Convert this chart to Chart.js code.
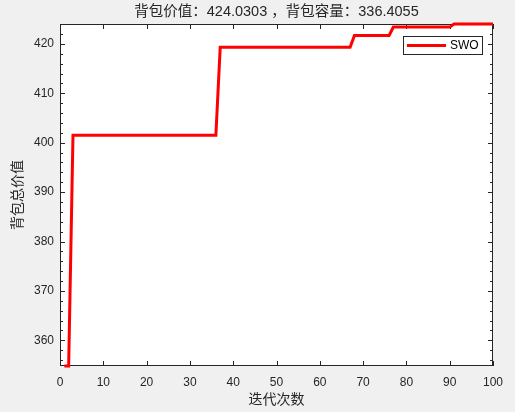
<!DOCTYPE html>
<html>
<head>
<meta charset="utf-8">
<script src="https://cdn.jsdelivr.net/npm/chart.js@4"></script>
<style>
  html, body { margin: 0; padding: 0; background: #f0f0f0; }
  canvas { display: block; }
</style>
</head>
<body>
<canvas id="swo" width="515" height="412"></canvas>
<script>
// breakpoints of the best-value curve (iteration, value)
const iterations = [1, 2, 3, 36, 37, 67, 68, 76, 77, 90, 91, 100];
const values = [354.8, 354.8, 401.5, 401.5, 419.3, 419.3, 421.7, 421.7, 423.4, 423.4, 424.03, 424.03];
const xTicks = [0, 10, 20, 30, 40, 50, 60, 70, 80, 90, 100];
const yTicks = [360, 370, 380, 390, 400, 410, 420];
const yMinorTicks = [356, 358, 362, 364, 366, 368, 372, 374, 376, 378, 382, 384, 386, 388,
  392, 394, 396, 398, 402, 404, 406, 408, 412, 414, 416, 418, 422];

const titleText = '背包价值：424.0303 ，背包容量：336.4055';
const seriesName = 'SWO';
const axisColor = '#262626';
const fontFamily = '"Liberation Sans", Arial, "Noto Sans CJK SC", sans-serif';

// matlab-ish frame: grey figure, white axes, box with inward ticks, title and legend
const matlabFrame = {
  id: 'matlabFrame',
  beforeDraw(chart) {
    const ctx = chart.ctx;
    const a = chart.chartArea;
    ctx.save();
    ctx.fillStyle = '#f0f0f0';
    ctx.fillRect(0, 0, chart.width, chart.height);
    ctx.fillStyle = '#ffffff';
    ctx.fillRect(a.left, a.top, a.right - a.left, a.bottom - a.top);
    ctx.restore();
  },
  beforeDatasetsDraw(chart) {
    const ctx = chart.ctx;
    const a = chart.chartArea;
    const xs = chart.scales.x;
    const ys = chart.scales.y;
    ctx.save();
    ctx.strokeStyle = axisColor;
    ctx.lineWidth = 1;
    ctx.strokeRect(a.left + 0.5, a.top + 0.5, a.right - a.left - 1, a.bottom - a.top - 1);
    ctx.beginPath();
    xTicks.forEach(v => {
      const px = Math.round(xs.getPixelForValue(v)) + 0.5;
      ctx.moveTo(px, a.bottom); ctx.lineTo(px, a.bottom - 5);
      ctx.moveTo(px, a.top); ctx.lineTo(px, a.top + 5);
    });
    yTicks.forEach(v => {
      const py = Math.round(ys.getPixelForValue(v)) + 0.5;
      ctx.moveTo(a.left, py); ctx.lineTo(a.left + 5, py);
      ctx.moveTo(a.right, py); ctx.lineTo(a.right - 5, py);
    });
    yMinorTicks.forEach(v => {
      const py = Math.round(ys.getPixelForValue(v)) + 0.5;
      ctx.moveTo(a.left, py); ctx.lineTo(a.left + 3, py);
      ctx.moveTo(a.right, py); ctx.lineTo(a.right - 3, py);
    });
    ctx.stroke();

    ctx.fillStyle = axisColor;
    ctx.font = '14.5px ' + fontFamily;
    ctx.textAlign = 'center';
    ctx.textBaseline = 'middle';
    ctx.fillText(titleText, (a.left + a.right) / 2, 12);
    ctx.restore();
  },
  afterDatasetsDraw(chart) {
    const ctx = chart.ctx;
    const a = chart.chartArea;
    const ds = chart.data.datasets[0];
    const bx = a.right - 90, by = a.top + 12, bw = 79, bh = 18;
    ctx.save();
    ctx.fillStyle = '#ffffff';
    ctx.fillRect(bx, by, bw, bh);
    ctx.strokeStyle = '#262626';
    ctx.lineWidth = 1;
    ctx.strokeRect(bx + 0.5, by + 0.5, bw, bh);
    ctx.strokeStyle = ds.borderColor;
    ctx.lineWidth = ds.borderWidth;
    ctx.beginPath();
    ctx.moveTo(bx + 4, by + 9.5);
    ctx.lineTo(bx + 43, by + 9.5);
    ctx.stroke();
    ctx.fillStyle = '#000000';
    ctx.font = '12px ' + fontFamily;
    ctx.textAlign = 'left';
    ctx.textBaseline = 'middle';
    ctx.fillText(ds.label, bx + 47, by + 10);
    ctx.restore();
  }
};

const points = iterations.map((it, i) => ({ x: it, y: values[i] }));

new Chart(document.getElementById('swo'), {
  type: 'line',
  data: {
    datasets: [{
      label: seriesName,
      data: points,
      borderColor: '#ff0000',
      borderWidth: 3,
      pointRadius: 0,
      fill: false,
      tension: 0,
      clip: 2
    }]
  },
  options: {
    responsive: false,
    devicePixelRatio: 1,
    animation: false,
    layout: { padding: { top: 24, right: 22, left: 0, bottom: 0 } },
    plugins: {
      legend: { display: false },
      title: { display: false },
      tooltip: { enabled: false }
    },
    scales: {
      x: {
        type: 'linear',
        min: 0,
        max: 100,
        afterBuildTicks: scale => { scale.ticks = xTicks.map(v => ({ value: v })); },
        afterFit: scale => { scale.height = 46; },
        grid: { display: false, drawTicks: false },
        border: { display: false },
        ticks: { color: axisColor, font: { family: fontFamily, size: 12 }, padding: 9, maxRotation: 0 },
        title: {
          display: true,
          text: '迭代次数',
          color: axisColor,
          font: { family: fontFamily, size: 14 },
          padding: { top: 0, bottom: 3 }
        }
      },
      y: {
        type: 'linear',
        min: 354.8,
        max: 424.03,
        afterBuildTicks: scale => { scale.ticks = yTicks.map(v => ({ value: v })); },
        afterFit: scale => { scale.width = 60; },
        grid: { display: false, drawTicks: false },
        border: { display: false },
        ticks: { color: axisColor, font: { family: fontFamily, size: 12 }, padding: 6 },
        title: {
          display: true,
          text: '背包总价值',
          color: axisColor,
          font: { family: fontFamily, size: 14 },
          padding: { top: 10, bottom: 0 }
        }
      }
    }
  },
  plugins: [matlabFrame]
});
</script>
</body>
</html>
